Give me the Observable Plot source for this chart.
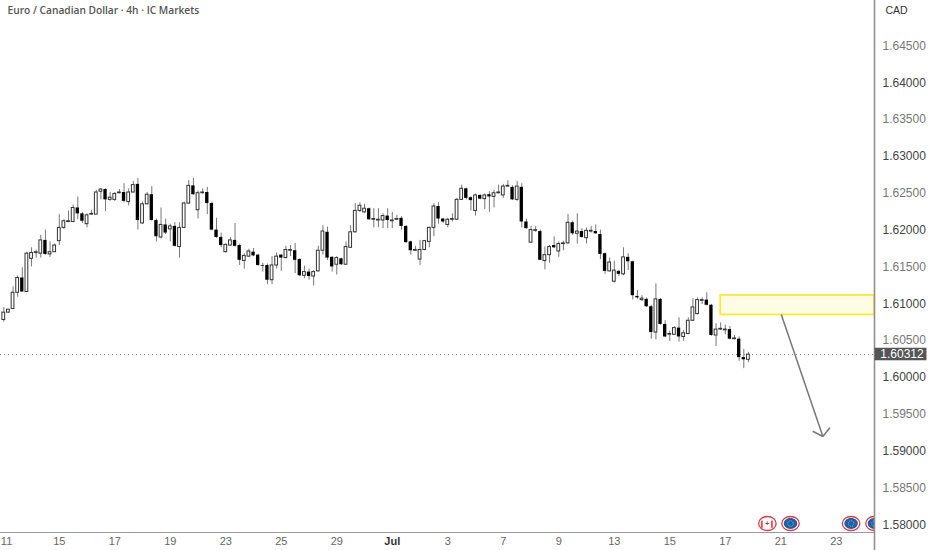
<!DOCTYPE html>
<html>
<head>
<meta charset="utf-8">
<script src="https://cdn.jsdelivr.net/npm/d3@7"></script>
<script src="https://cdn.jsdelivr.net/npm/@observablehq/plot@0.6"></script>
<style>html,body{margin:0;padding:0;background:#fff}svg{display:block}</style>
</head>
<body>
<div id="chart"></div>
<script>
// Prices are stored as pips above the base price
const basePrice = 1.6;
const opens = [
78,88,93,115,135,116,161,169,168,186,
167,170,185,203,211,211,230,222,208,221,
221,252,255,241,241,250,251,238,251,262,
209,235,248,213,190,207,201,205,177,203,
236,260,227,250,251,236,200,190,170,179,
186,179,158,164,170,166,152,152,132,152,
166,162,172,172,160,138,143,137,144,172,
197,163,153,161,153,176,197,226,224,229,
214,213,213,219,212,214,216,205,184,172,
160,173,184,203,232,215,207,214,214,241,
256,244,226,247,242,248,245,250,247,259,
258,241,258,211,183,199,198,158,166,179,
171,181,182,210,195,198,189,198,198,194,
168,144,130,144,140,163,157,110,105,106,
96,61,106,72,58,58,67,55,59,77,
86,104,105,98,57,65,64,65,52,52,27,24];
const closes = [
88,92,115,135,116,168,169,170,186,167,
170,179,203,212,212,230,222,212,220,222,
251,255,241,244,249,251,239,251,261,213,
235,248,213,191,207,196,205,178,203,236,
260,248,250,251,236,200,190,179,180,186,
178,159,165,171,165,152,151,132,152,164,
162,173,173,159,138,143,137,143,172,198,
162,150,162,153,177,197,226,233,229,214,
215,214,219,213,213,215,205,183,172,173,
173,185,203,232,215,211,214,215,241,256,
243,240,247,242,247,245,250,251,259,260,
241,259,211,202,200,200,159,166,177,176,
181,182,210,195,198,190,199,199,195,167,
144,156,145,140,163,157,111,108,107,96,
61,106,72,55,59,67,55,60,77,95,
105,105,98,57,65,66,65,52,53,27,24,31];
const highs = [
95,92,123,138,149,170,176,173,193,200,
184,181,221,214,226,234,245,224,222,227,
254,256,256,251,251,255,263,256,266,270,
238,251,259,215,230,215,208,210,210,238,
267,270,253,256,258,238,216,196,181,190,
209,181,168,174,175,167,155,154,164,169,
167,178,179,182,161,151,147,145,178,206,
204,164,164,162,184,206,236,237,235,230,
229,229,222,229,224,220,218,206,185,178,
186,186,204,236,237,216,216,222,243,261,
257,245,249,248,249,252,254,261,262,267,
260,266,263,215,205,205,200,177,179,191,
184,185,221,212,222,202,203,205,207,200,
169,162,158,145,176,168,158,118,111,108,
98,127,107,77,63,69,81,64,81,107,
108,108,115,99,73,74,71,69,57,55,38,34];
const lows = [
75,87,92,109,116,116,150,162,162,166,
163,170,179,201,210,210,214,209,203,220,
221,241,225,239,239,249,237,233,250,200,
208,234,212,184,188,194,184,177,162,202,
235,247,215,249,221,199,189,176,169,178,
177,152,147,163,164,151,143,126,126,147,
144,161,164,141,137,134,132,124,143,166,
159,143,139,152,153,175,196,224,223,213,
203,203,202,202,202,213,200,182,166,171,
152,172,176,191,208,209,203,211,213,240,
241,226,219,241,228,224,230,249,243,258,
240,239,203,201,182,197,159,146,155,175,
163,172,181,193,181,189,181,196,194,160,
140,143,128,137,138,145,105,106,103,95,
52,51,71,54,49,57,48,49,58,76,
85,99,97,56,42,64,58,51,51,22,12,20];

const title = "Euro / Canadian Dollar · 4h · IC Markets";
const currency = "CAD";
const lastPrice = 1.60312;

const xTickIndex = [0.6,12,24,36,48,60,72,96,108,120,132,144,156,168,180];
const xTickLabel = ["11","15","17","19","23","25","29","3","7","9","13","15","17","21","23"];
const monthTick = 84, monthLabel = "Jul";
const priceMajor = [1.58,1.59,1.6,1.61,1.62,1.63,1.64];
const priceMinor = [1.585,1.595,1.605,1.615,1.625,1.635,1.645];

const xDomain = [-0.71,188.26], yDomain = [1.57897,1.65115], yFull = [1.57653,1.65115];
const zone = {x1:155, x2:188.26, y1:1.60848, y2:1.61113};
const arrowParts = [
  {x1:168.1,y1:1.60855,x2:177.1,y2:1.5920},
  {x1:174.9,y1:1.59271,x2:177.1,y2:1.5920},
  {x1:178.6,y1:1.59317,x2:177.1,y2:1.5920}
];
const canadaEvents = [165.1];
const euroEvents = [170.1,183.2,188.26];
const eventPrice = 1.58019;

const idx = d3.range(opens.length);
const price = v => basePrice + v / 10000;
const down = i => closes[i] < opens[i];
const ellipse = {draw(ctx, size){
  const r = Math.sqrt(size/Math.PI), a = r*1.25, b = r, k = 0.5523;
  ctx.moveTo(a,0);
  ctx.bezierCurveTo(a,k*b,k*a,b,0,b);
  ctx.bezierCurveTo(-k*a,b,-a,k*b,-a,0);
  ctx.bezierCurveTo(-a,-k*b,-k*a,-b,0,-b);
  ctx.bezierCurveTo(k*a,-b,a,-k*b,a,0);
  ctx.closePath();
}};
const fmt = d3.format(".5f");
const font = "'Liberation Sans', Arial, sans-serif";

const chart = Plot.plot({
  width: 932, height: 550,
  marginLeft: 0, marginRight: 58, marginTop: 0, marginBottom: 18,
  x: {domain: xDomain},
  y: {domain: yDomain},
  style: {background:"#fff", fontFamily: font},
  marks: [
    // dotted last price line
    Plot.ruleY([lastPrice], {stroke:"#8a8a8a", strokeWidth:1, strokeDasharray:"1 3"}),
    // supply zone
    Plot.rect([zone], {x1:"x1",x2:"x2",y1:"y1",y2:"y2", fill:"#fffce6", stroke:"#f8ea3c", strokeWidth:1.8}),
    // candles
    Plot.ruleX(idx, {x:i=>i, y1:i=>price(lows[i]), y2:i=>price(highs[i]), stroke:"#777", strokeWidth:1}),
    Plot.rect(idx.filter(down), {x1:i=>i-0.36, x2:i=>i+0.36, y1:i=>price(opens[i]), y2:i=>price(closes[i]), fill:"#000", inset:0}),
    Plot.rect(idx.filter(i=>!down(i)), {x1:i=>i-0.3, x2:i=>i+0.3, y1:i=>price(opens[i]), y2:i=>price(closes[i]), fill:"#fff", stroke:"#333", strokeWidth:1, inset:0}),
    // projection arrow
    Plot.link(arrowParts, {x1:"x1",y1:"y1",x2:"x2",y2:"y2", stroke:"#777", strokeWidth:1.5}),
    // event markers
    Plot.dot(canadaEvents, {x:d=>d, y:()=>eventPrice, symbol:ellipse, r:7, fill:"#fff", stroke:"#e0394a", strokeWidth:1.3, clip:"frame"}),
    Plot.text(canadaEvents, {x:d=>d, y:()=>eventPrice, text:()=>"❙+❙", fontSize:7, fill:"#d8283c", fontWeight:700}),
    Plot.dot(euroEvents, {x:d=>d, y:()=>eventPrice, symbol:ellipse, r:7, fill:"#fff", stroke:"#e0394a", strokeWidth:1.3, clip:"frame"}),
    Plot.dot(euroEvents, {x:d=>d, y:()=>eventPrice, symbol:ellipse, r:5.4, fill:"#1f5fa8", clip:"frame"}),
    Plot.dot(euroEvents, {x:d=>d, y:()=>eventPrice, r:2.8, fill:"none", stroke:"#b9c98a", strokeWidth:0.9, strokeDasharray:"1 1.2", clip:"frame"}),
    // axis lines
    Plot.ruleY([yDomain[0]], {stroke:"#9a9a9a", strokeWidth:1}),
    Plot.ruleX([xDomain[1]], {y1:yFull[0], y2:yFull[1], stroke:"#8f8f8f", strokeWidth:1.6}),
    // price tag
    Plot.rect([lastPrice], {x1:188.4, x2:199.6, y1:d=>d-0.00085, y2:d=>d+0.00085, fill:"#555"}),
    Plot.text([lastPrice], {x:194.2, y:d=>d, text:d=>fmt(d), fill:"#fff", fontSize:12}),
    // axes
    Plot.axisY({anchor:"right", ticks:priceMajor, tickSize:0, tickPadding:8, tickFormat:fmt, fontSize:12, fill:"#444", label:null}),
    Plot.axisY({anchor:"right", ticks:priceMinor, tickSize:0, tickPadding:8, tickFormat:fmt, fontSize:12, fill:"#777", label:null}),
    Plot.axisX({ticks:xTickIndex, tickSize:0, tickPadding:5, tickFormat:d=>xTickLabel[xTickIndex.indexOf(d)], fontSize:11, fill:"#666", label:null}),
    Plot.axisX({ticks:[monthTick], tickSize:0, tickPadding:5, tickFormat:()=>monthLabel, fontSize:11, fill:"#333", fontWeight:700, label:null}),
    // header
    Plot.text([title], {frameAnchor:"top-left", dx:7, dy:6, lineAnchor:"top", textAnchor:"start", fontSize:10.2, fontWeight:600, fill:"#555", fontFamily:"'Open Sans', sans-serif"}),
    Plot.text([currency], {frameAnchor:"top-right", dx:11, dy:6, lineAnchor:"top", textAnchor:"start", fontSize:10.5, fill:"#333"})
  ]
});
document.getElementById("chart").appendChild(chart);
</script>
</body>
</html>
